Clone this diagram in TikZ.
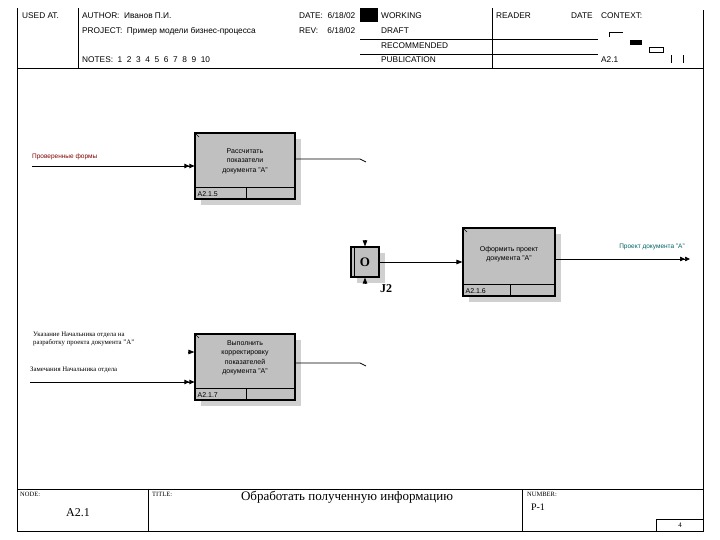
\documentclass[tikz,border=0pt]{standalone}
\usepackage{fontspec}
\setmainfont{Liberation Serif}
\setsansfont{Liberation Sans}
\usetikzlibrary{arrows.meta,shadows}
\definecolor{boxgray}{RGB}{192,192,192}
\definecolor{shadegray}{RGB}{208,208,208}
\definecolor{lblred}{RGB}{128,0,0}
\definecolor{lblteal}{RGB}{0,100,100}

\begin{document}
\begin{tikzpicture}[x=1pt, y=1pt,
  hdr/.style={font=\sffamily\fontsize{8.3}{9}\selectfont, anchor=west, inner sep=0pt},
  frm/.style={font=\fontsize{6.5}{8}\selectfont, anchor=west, inner sep=0pt},
  frame/.style={line width=0.9pt},
  actbox/.style={rectangle, draw, line width=1.2pt, fill=boxgray, inner sep=0pt,
                 drop shadow={shadow xshift=6pt, shadow yshift=-6pt, fill=shadegray, opacity=1}},
  acttext/.style={font=\sffamily\fontsize{7}{9.5}\selectfont, align=center, inner sep=0pt},
  code/.style={font=\sffamily\fontsize{7}{8}\selectfont, anchor=west, inner sep=0pt},
  wire/.style={line width=0.7pt},
  arrow/.style={wire, -{Triangle[length=6pt,width=4.5pt]}},
  darrow/.style={wire, -{Triangle[length=5pt,width=4.5pt]Triangle[length=5pt,width=4.5pt]}},
  lbl/.style={font=\fontsize{6.8}{8}\selectfont, anchor=west, inner sep=0pt, align=left}
]
\useasboundingbox (0,0) rectangle (720,540);

% frame and header
\draw[frame] (17,532) -- (17,9) -- (703,9) -- (703,530);
\draw[frame] (17,472) -- (703,472);
\draw[frame] (78,532) -- (78,472);
\draw[frame] (492,532) -- (492,472);
\draw (360,501) -- (598,501);
\draw (360,486) -- (598,486);
\fill (360,518) rectangle (378,532);

\node[hdr] (usedat) at (22,524) {USED AT.};
\node[hdr] (author) at (82,524) {AUTHOR:\ \ Иванов П.И.};
\node[hdr] (project) at (82,509) {PROJECT:\ \ Пример модели бизнес-процесса};
\node[hdr] (notes) at (82,480) {NOTES:\ \ 1\ \ 2\ \ 3\ \ 4\ \ 5\ \ 6\ \ 7\ \ 8\ \ 9\ \ 10};
\node[hdr] (date) at (299,524) {DATE:\ \ 6/18/02};
\node[hdr] (rev) at (299,509) {REV:\ \ \ \ 6/18/02};
\node[hdr] (working) at (381,524) {WORKING};
\node[hdr] (draft) at (381,509) {DRAFT};
\node[hdr] (recommended) at (381,494) {RECOMMENDED};
\node[hdr] (publication) at (381,480) {PUBLICATION};
\node[hdr] (reader) at (496,524) {READER};
\node[hdr] (rdate) at (571,524) {DATE};
\node[hdr] (context) at (601,524) {CONTEXT:};
\node[hdr] (ctxnode) at (601,480) {A2.1};

% context marks
\draw (609,503) -- (609,508) -- (623,508);
\fill (630,495) rectangle (642,500);
\draw (649,488) rectangle (663,493);
\draw (671,477) -- (671,485);
\draw (683,477) -- (683,485);

% footer
\draw[frame] (17,51) -- (703,51);
\draw[frame] (148,51) -- (148,9);
\draw[frame] (522,51) -- (522,9);
\draw[frame] (656,9) rectangle (703,21);
\node[frm] (nodelbl) at (20,46) {NODE:};
\node[frm] (titlelbl) at (152,46) {TITLE:};
\node[frm] (numberlbl) at (527,46) {NUMBER:};
\node[font=\fontsize{12}{14}\selectfont] (nodeval) at (78,27) {A2.1};
\node[font=\fontsize{13}{15}\selectfont] (titleval) at (347,43) {Обработать полученную информацию};
\node[font=\fontsize{10}{12}\selectfont] (numberval) at (538,33) {P-1};
\node[font=\fontsize{7}{8}\selectfont] (pagenum) at (680,15) {4};

% activities
\node[actbox, minimum width=100pt, minimum height=66pt] (calc) at (245,374) {};
\node[actbox, minimum width=92pt, minimum height=68pt] (draft) at (509,278) {};
\node[actbox, minimum width=100pt, minimum height=66pt] (corr) at (245,173) {};
\node[acttext] (calctxt) at (245,379) {Рассчитать\\показатели\\документа "А"};
\node[acttext] (drafttxt) at (509,286) {Оформить проект\\документа "А"};
\node[acttext] (corrtxt) at (245,182) {Выполнить\\корректировку\\показателей\\документа "А"};
\foreach \b/\n in {calc/5, draft/6, corr/7} {
  \draw[line width=1.2pt] ([yshift=12pt]\b.south west) -- ([yshift=12pt]\b.south east);
  \draw ([xshift=1pt]\b.south) -- ([xshift=1pt,yshift=12pt]\b.south);
  \draw ([shift={(1.5pt,-1.5pt)}]\b.north west) -- ([shift={(4.5pt,-4.5pt)}]\b.north west);
  \node[code] at ([shift={(3pt,6pt)}]\b.south west) {A2.1.\n};
}

% junction
\node[actbox, minimum width=28pt, minimum height=30pt,
      font=\bfseries\fontsize{13}{14}\selectfont] (j2) at (365,278) {O};
\draw ([xshift=4pt]j2.north west) -- ([xshift=4pt]j2.south west);
\node[font=\bfseries\fontsize{12}{14}\selectfont] (j2lbl) at (386,251) {J2};
\coordinate (j2top) at (365,300);
\coordinate (j2bot) at (365,256);
\draw[arrow] (j2top) -- (j2.north);
\draw[arrow] (j2bot) -- (j2.south);

% arrows
\coordinate (formsin) at (32,374);
\draw[darrow] (formsin) -- (calc.west);
\node[lbl, font=\sffamily\fontsize{6.5}{8}\selectfont, text=lblred] (formslbl) at (32,383) {Проверенные формы};
\coordinate (calcout) at (360,381);
\draw[wire] (calc.east |- calcout) -- (calcout) -- ++(6,-3);

\draw[arrow] (j2.east) -- (draft.west);
\coordinate (draftout) at (690,281);
\draw[darrow] (draft.east |- draftout) -- (draftout);
\node[font=\sffamily\fontsize{6.5}{8}\selectfont, text=lblteal] (draftlbl) at (652,293) {Проект документа "А"};

\node[lbl] (ordlbl) at (33,201) {Указание Начальника отдела на\\разработку проекта документа "А"};
\coordinate (ordin) at (188,188);
\draw[arrow] (ordin) -- (corr.west |- ordin);
\node[lbl] (remlbl) at (30,170) {Замечания Начальника отдела};
\coordinate (remin) at (30,158);
\draw[darrow] (remin) -- (corr.west |- remin);
\coordinate (corrout) at (360,177);
\draw[wire] (corr.east |- corrout) -- (corrout) -- ++(6,-3);
\end{tikzpicture}
\end{document}
